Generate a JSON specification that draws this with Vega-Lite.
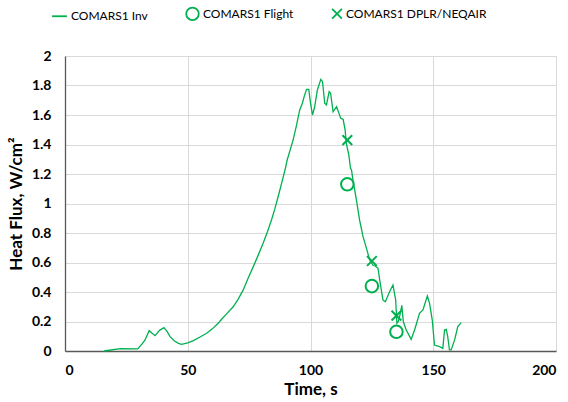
{
  "$schema": "https://vega.github.io/schema/vega-lite/v6.json",
  "width": 491,
  "height": 295,
  "autosize": {"type": "none"},
  "padding": {"left": 65, "top": 56, "right": 12, "bottom": 51},
  "config": {
    "font": "Lato",
    "view": {"stroke": null},
    "axis": {
      "grid": true,
      "gridColor": "#d9d9d9",
      "gridWidth": 1,
      "domainColor": "#595959",
      "domainWidth": 1.3,
      "ticks": false,
      "labelFont": "Lato",
      "labelFontWeight": "bold",
      "labelFontSize": 14,
      "labelColor": "#000000",
      "titleFont": "Lato",
      "titleFontWeight": "bold",
      "titleFontSize": 17,
      "titleColor": "#000000"
    },
    "legend": {
      "orient": "none",
      "legendX": -14,
      "legendY": -50,
      "direction": "horizontal",
      "columnPadding": 34,
      "labelFont": "Lato",
      "labelFontSize": 12,
      "labelColor": "#000000",
      "labelOffset": 3,
      "symbolStrokeWidth": 1.8,
      "title": null
    }
  },
  "datasets": {
    "curve": [
      {"t": 15.9, "q": 0.0}, {"t": 18, "q": 0.005}, {"t": 22.5, "q": 0.016}, {"t": 29.6, "q": 0.014},
      {"t": 31.5, "q": 0.05}, {"t": 32.6, "q": 0.075}, {"t": 34.3, "q": 0.138}, {"t": 35.5, "q": 0.12},
      {"t": 36.7, "q": 0.104}, {"t": 38.5, "q": 0.14}, {"t": 40.3, "q": 0.158}, {"t": 41.5, "q": 0.135},
      {"t": 42.8, "q": 0.097}, {"t": 44.5, "q": 0.07}, {"t": 46.2, "q": 0.052}, {"t": 47.5, "q": 0.045},
      {"t": 50, "q": 0.055}, {"t": 52.3, "q": 0.07}, {"t": 55, "q": 0.095}, {"t": 57.7, "q": 0.12},
      {"t": 60, "q": 0.15}, {"t": 62.4, "q": 0.188}, {"t": 63.8, "q": 0.215}, {"t": 66, "q": 0.255},
      {"t": 68.5, "q": 0.3}, {"t": 70.5, "q": 0.35}, {"t": 72.6, "q": 0.414}, {"t": 74.5, "q": 0.49},
      {"t": 76.7, "q": 0.572}, {"t": 78.7, "q": 0.65}, {"t": 80.7, "q": 0.73}, {"t": 82.5, "q": 0.81},
      {"t": 84.1, "q": 0.888}, {"t": 85.5, "q": 0.965}, {"t": 86.8, "q": 1.046}, {"t": 88.2, "q": 1.135},
      {"t": 89.6, "q": 1.227}, {"t": 90.5, "q": 1.295}, {"t": 92.9, "q": 1.43}, {"t": 94.3, "q": 1.53},
      {"t": 95.6, "q": 1.634}, {"t": 96.7, "q": 1.68}, {"t": 97.5, "q": 1.73}, {"t": 98.4, "q": 1.774},
      {"t": 99.3, "q": 1.774}, {"t": 100, "q": 1.68}, {"t": 100.8, "q": 1.6}, {"t": 101.7, "q": 1.656},
      {"t": 102.8, "q": 1.77}, {"t": 104.2, "q": 1.842}, {"t": 104.9, "q": 1.826}, {"t": 105.8, "q": 1.68},
      {"t": 106.5, "q": 1.668}, {"t": 107.6, "q": 1.758}, {"t": 108.2, "q": 1.747}, {"t": 109.2, "q": 1.622},
      {"t": 110.6, "q": 1.656}, {"t": 111.6, "q": 1.611}, {"t": 112.3, "q": 1.578}, {"t": 113.3, "q": 1.571},
      {"t": 114.1, "q": 1.498}, {"t": 114.6, "q": 1.408}, {"t": 115.6, "q": 1.329}, {"t": 116.3, "q": 1.239},
      {"t": 116.7, "q": 1.227}, {"t": 117.3, "q": 1.159}, {"t": 118.7, "q": 1.024}, {"t": 120, "q": 0.888},
      {"t": 121.4, "q": 0.775}, {"t": 122.8, "q": 0.696}, {"t": 124.1, "q": 0.617}, {"t": 125.4, "q": 0.583},
      {"t": 126.5, "q": 0.575}, {"t": 127.5, "q": 0.561}, {"t": 128.2, "q": 0.481}, {"t": 129.5, "q": 0.346},
      {"t": 130.5, "q": 0.334}, {"t": 132.2, "q": 0.402}, {"t": 133.6, "q": 0.447}, {"t": 134.7, "q": 0.346},
      {"t": 135.2, "q": 0.188}, {"t": 135.8, "q": 0.2}, {"t": 136.5, "q": 0.25}, {"t": 137.2, "q": 0.31},
      {"t": 137.8, "q": 0.2}, {"t": 139, "q": 0.142}, {"t": 141, "q": 0.079}, {"t": 142.4, "q": 0.142},
      {"t": 144.4, "q": 0.256}, {"t": 145.8, "q": 0.278}, {"t": 147.6, "q": 0.373}, {"t": 148.5, "q": 0.323},
      {"t": 149.6, "q": 0.21}, {"t": 150.5, "q": 0.04}, {"t": 152.6, "q": 0.03}, {"t": 153.9, "q": 0.018},
      {"t": 154.6, "q": 0.142}, {"t": 155.3, "q": 0.147}, {"t": 155.9, "q": 0.097}, {"t": 156.6, "q": 0.007},
      {"t": 157.3, "q": 0.007}, {"t": 158.7, "q": 0.075}, {"t": 160, "q": 0.165}, {"t": 161.4, "q": 0.192}
    ],
    "pts": [
      {"t": 115, "q": 1.13, "series": "COMARS1 Flight"},
      {"t": 125, "q": 0.44, "series": "COMARS1 Flight"},
      {"t": 135, "q": 0.13, "series": "COMARS1 Flight"},
      {"t": 115, "q": 1.43, "series": "COMARS1 DPLR/NEQAIR"},
      {"t": 125, "q": 0.61, "series": "COMARS1 DPLR/NEQAIR"},
      {"t": 135, "q": 0.24, "series": "COMARS1 DPLR/NEQAIR"}
    ]
  },
  "encoding": {
    "x": {
      "field": "t", "type": "quantitative",
      "scale": {"domain": [0, 200], "nice": false},
      "axis": {"values": [0, 50, 100, 150, 200], "title": "Time, s", "labelPadding": 12, "titlePadding": 4}
    },
    "y": {
      "field": "q", "type": "quantitative",
      "scale": {"domain": [0, 2], "nice": false},
      "axis": {"values": [0, 0.2, 0.4, 0.6, 0.8, 1, 1.2, 1.4, 1.6, 1.8, 2], "format": "~g", "title": "Heat Flux, W/cm²", "labelPadding": 14, "titlePadding": 6}
    }
  },
  "layer": [
    {
      "data": {"name": "curve"},
      "transform": [{"calculate": "'COMARS1 Inv'", "as": "series"}],
      "mark": {"type": "line", "strokeWidth": 1.3},
      "encoding": {
        "color": {
          "field": "series", "type": "nominal",
          "scale": {"domain": ["COMARS1 Inv", "COMARS1 Flight", "COMARS1 DPLR/NEQAIR"], "range": ["#00B050", "#00B050", "#00B050"]}
        }
      }
    },
    {
      "data": {"name": "pts"},
      "mark": {"type": "point", "filled": false, "strokeWidth": 2, "opacity": 1},
      "encoding": {
        "color": {"field": "series", "type": "nominal"},
        "shape": {
          "field": "series", "type": "nominal",
          "scale": {"domain": ["COMARS1 Inv", "COMARS1 Flight", "COMARS1 DPLR/NEQAIR"], "range": ["stroke", "circle", "M-1,-1L1,1M-1,1L1,-1"]}
        },
        "size": {
          "field": "series", "type": "nominal",
          "scale": {"domain": ["COMARS1 Inv", "COMARS1 Flight", "COMARS1 DPLR/NEQAIR"], "range": [220, 95, 150]}
        }
      }
    }
  ]
}
